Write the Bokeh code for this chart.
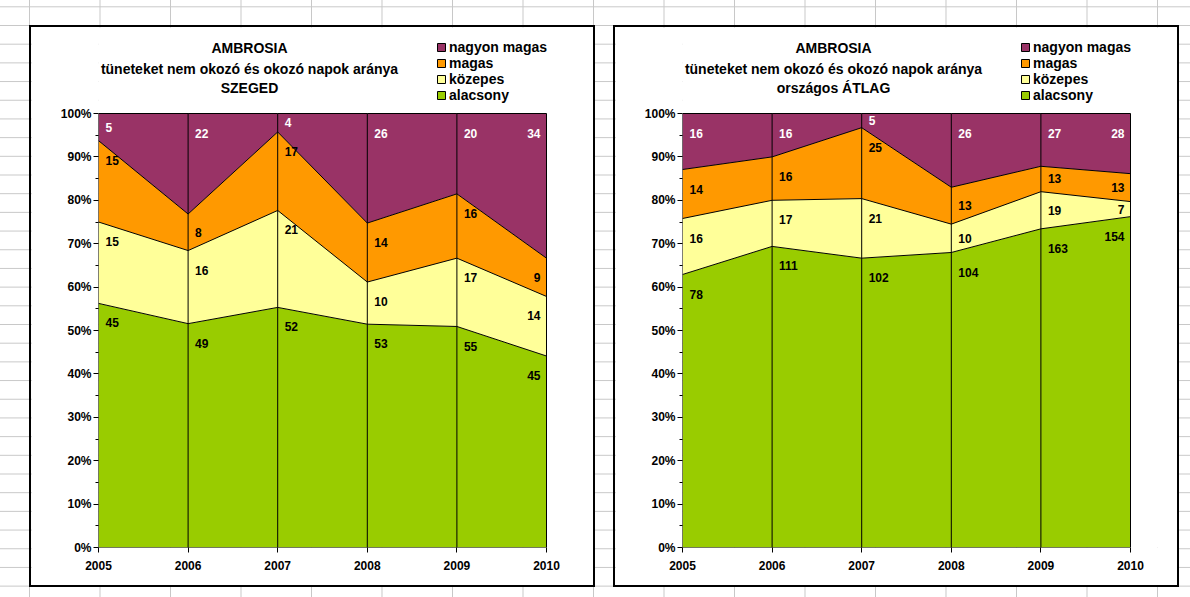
import numpy as np
from bokeh.plotting import figure
from bokeh.layouts import row
from bokeh.models import (Label, Legend, LegendItem, FixedTicker,
                          NumeralTickFormatter, Range1d)
from bokeh.core.properties import value
from bokeh.embed import file_html
from bokeh.resources import INLINE

# ---------------- data ----------------
years = [2005, 2006, 2007, 2008, 2009, 2010]
series_names = ["alacsony", "közepes", "magas", "nagyon magas"]
series_colors = ["#99CC00", "#FFFF99", "#FF9900", "#993366"]
label_colors = ["black", "black", "black", "white"]

szeged_alacsony = [45, 49, 52, 53, 55, 45]
szeged_kozepes = [15, 16, 21, 10, 17, 14]
szeged_magas = [15, 8, 17, 14, 16, 9]
szeged_nagyon_magas = [5, 22, 4, 26, 20, 34]

orszagos_alacsony = [78, 111, 102, 104, 163, 154]
orszagos_kozepes = [16, 17, 21, 10, 19, 7]
orszagos_magas = [14, 16, 25, 13, 13, 13]
orszagos_nagyon_magas = [16, 16, 5, 26, 27, 28]

title_line1 = "AMBROSIA"
title_line2 = "tüneteket nem okozó és okozó napok aránya"
subtitle_szeged = "SZEGED"
subtitle_orszagos = "országos ÁTLAG"

y_ticks = [0.0, 0.1, 0.2, 0.3, 0.4, 0.5, 0.6, 0.7, 0.8, 0.9, 1.0]
y_minor_ticks = [0.05, 0.15, 0.25, 0.35, 0.45, 0.55, 0.65, 0.75, 0.85, 0.95]

FONT = "Liberation Sans"
FONT_V = value(FONT)

# ---------------- layout constants (pixels) ----------------
CANVAS_W, CANVAS_H = 562, 558    # inside the 2px chart border
PLOT_W, PLOT_H = 448, 434        # data area (2005..2010, 0..100 %)
LEFT, BOTTOM = 67, 38            # space for axes
TOP_EXTRA, RIGHT_EXTRA = 86, 47  # header / legend space above and right


def make_chart(series, subtitle, margin):
    vals = np.array(series, dtype=float)
    totals = vals.sum(axis=0)
    shares = vals / totals
    upper = np.cumsum(shares, axis=0)
    lower = upper - shares

    yr_per_px = (years[-1] - years[0]) / PLOT_W
    x_end = years[-1] + RIGHT_EXTRA * yr_per_px
    y_end = 1 + TOP_EXTRA / PLOT_H

    p = figure(width=CANVAS_W, height=CANVAS_H,
               x_range=Range1d(years[0], x_end), y_range=Range1d(0, y_end),
               output_backend="svg", toolbar_location=None, tools="",
               title=None, min_border_left=LEFT, min_border_right=0,
               min_border_top=0, min_border_bottom=BOTTOM)
    p.margin = margin
    p.styles = {"outline": "2px solid #000000", "outline-offset": "0px"}
    p.background_fill_color = "white"
    p.border_fill_color = "white"
    p.outline_line_color = None
    p.grid.visible = False

    # stacked 100% areas
    for i in range(4):
        p.varea(x=years, y1=lower[i], y2=upper[i], fill_color=series_colors[i])

    # vertical category lines (incl. left and right edges of the data area)
    p.segment(x0=years, y0=[0] * len(years), x1=years, y1=[1] * len(years),
              line_color="black", line_width=1)

    # boundary lines of stacked bands (incl. top 100 % edge) and bottom edge
    for i in range(4):
        p.line(years, upper[i], line_color="black", line_width=1)
    p.line(years, lower[0], line_color="black", line_width=1)

    # data labels
    for i in range(4):
        ys = upper[i] - np.minimum(shares[i] / 2, 0.045)
        txt = [str(int(v)) for v in vals[i]]
        p.text(x=years[:-1], y=list(ys[:-1]), text=txt[:-1],
               text_align="left", text_baseline="middle", x_offset=7,
               text_font=FONT_V, text_font_style="bold",
               text_font_size="12px", text_color=label_colors[i])
        p.text(x=years[-1:], y=list(ys[-1:]), text=txt[-1:],
               text_align="right", text_baseline="middle", x_offset=-6,
               text_font=FONT_V, text_font_style="bold",
               text_font_size="12px", text_color=label_colors[i])

    # legend: proxy quads (NaN data, never drawn in the plot) with black outline
    items = []
    for i in reversed(range(4)):
        nan = np.array([np.nan])
        r = p.quad(left=nan, right=nan, top=nan, bottom=nan,
                   fill_color=series_colors[i], line_color="black", line_width=1)
        items.append(LegendItem(label=series_names[i], renderers=[r]))
    legend = Legend(items=items, location=(338, 444), padding=0, margin=0,
                    spacing=-1, glyph_width=10, glyph_height=10, label_height=15,
                    label_standoff=3, border_line_color=None,
                    background_fill_alpha=0, label_text_font=FONT,
                    label_text_font_style="bold", label_text_font_size="14px",
                    label_text_color="black")
    p.add_layout(legend)

    # three-line header
    for txt, yy in [(title_line1, 500), (title_line2, 479), (subtitle, 460)]:
        p.add_layout(Label(x=151, y=yy, x_units="screen", y_units="screen",
                           text=txt, text_align="center", text_baseline="middle",
                           text_font=FONT, text_font_style="bold",
                           text_font_size="14px", text_color="black"))

    # axes
    p.yaxis.ticker = FixedTicker(ticks=y_ticks, minor_ticks=y_minor_ticks)
    p.yaxis.formatter = NumeralTickFormatter(format="0%")
    p.yaxis.major_tick_out = 5
    p.yaxis.major_tick_in = 0
    p.yaxis.minor_tick_out = 3
    p.yaxis.minor_tick_in = 0
    p.yaxis.major_label_standoff = 2
    p.xaxis.ticker = FixedTicker(ticks=years, minor_ticks=[])
    p.xaxis.major_tick_out = 5
    p.xaxis.major_tick_in = 0
    p.xaxis.minor_tick_out = 0
    p.xaxis.major_label_standoff = 8
    for ax in (p.xaxis, p.yaxis):
        ax.axis_line_color = None
        ax.major_tick_line_color = "black"
        ax.minor_tick_line_color = "black"
        ax.major_label_text_font = FONT
        ax.major_label_text_font_style = "bold"
        ax.major_label_text_font_size = "12px"
        ax.major_label_text_color = "black"
    return p


p1 = make_chart([szeged_alacsony, szeged_kozepes, szeged_magas, szeged_nagyon_magas],
                subtitle_szeged, (27, 0, 0, 31))
p2 = make_chart([orszagos_alacsony, orszagos_kozepes, orszagos_magas, orszagos_nagyon_magas],
                subtitle_orszagos, (27, 0, 0, 22))

grid_css = {
    "background-color": "white",
    "background-image": "linear-gradient(to right, #c8c8c8 1px, transparent 1px), "
                        "linear-gradient(to bottom, #c8c8c8 1px, transparent 1px)",
    "background-size": "70.5px 18.7px",
    "background-position": "29px 25px",
}
layout = row(p1, p2, width=1190, height=597, styles=grid_css)

with open("out.html", "w", encoding="utf-8") as f:
    f.write(file_html(layout, INLINE))
